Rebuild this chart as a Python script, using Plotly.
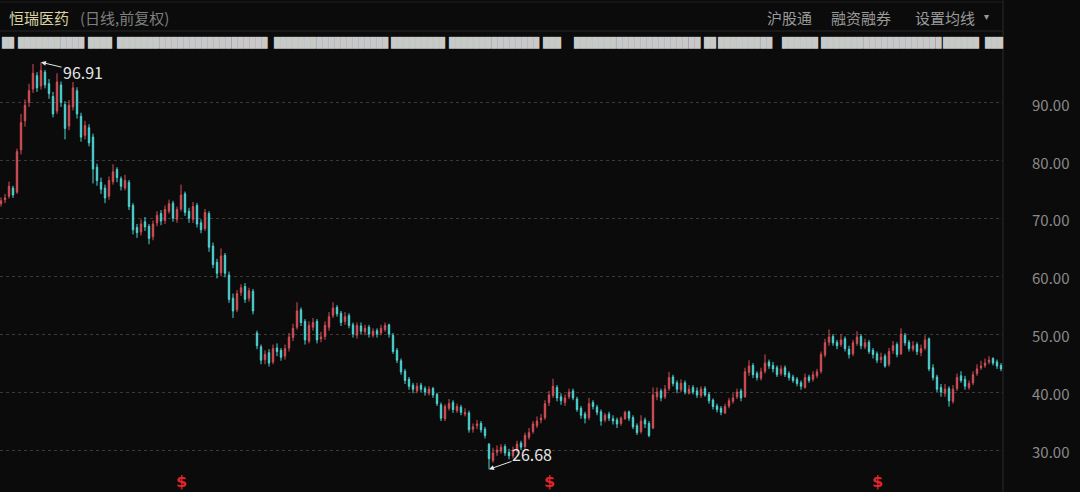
import plotly.graph_objects as go

# ---------------- data (one candle ≈ 2.5 trading days) -------------
open_ = [
    72.5, 73.2, 73.8, 75.2, 74.5, 81.8, 86.8, 90.0, 92.3, 94.6,
    92.8, 95.2, 93.2, 91.0, 88.5, 93.0, 89.6, 85.9, 89.2, 92.0,
    87.6, 84.3, 85.6, 84.0, 78.8, 76.2, 75.2, 73.8, 76.3, 78.4,
    76.8, 75.2, 76.2, 72.2, 68.4, 67.6, 69.4, 68.6, 66.8, 69.2,
    70.8, 69.6, 71.2, 72.6, 69.8, 71.6, 74.2, 71.2, 69.8, 72.2,
    69.2, 68.2, 70.8, 65.2, 62.4, 60.6, 63.6, 60.2, 56.2, 54.2,
    57.2, 58.2, 56.2, 57.4, 50.2, 47.8, 45.6, 46.8, 45.2, 47.6,
    47.2, 46.2, 47.6, 49.4, 51.2, 54.2, 52.2, 48.8, 51.2, 52.2,
    49.2, 49.6, 51.2, 53.2, 54.6, 53.6, 52.2, 53.2, 51.6, 49.8,
    51.4, 50.4, 51.2, 49.8, 50.6, 50.2, 50.8, 51.6, 49.8, 47.2,
    45.4, 43.6, 42.2, 41.2, 40.2, 41.2, 40.6, 39.8, 40.6, 39.6,
    37.8, 35.4, 37.2, 38.2, 36.8, 37.4, 36.2, 36.4, 33.6, 34.2,
    34.6, 33.6, 31.0, 28.2, 29.6, 29.8, 30.6, 29.6, 29.0, 30.0,
    31.2, 30.6, 32.2, 33.2, 34.2, 35.2, 35.6, 38.2, 39.4, 40.8,
    39.2, 38.2, 39.2, 40.2, 38.8, 37.2, 36.2, 35.6, 38.2, 37.4,
    36.6, 35.2, 36.2, 35.4, 35.2, 34.6, 35.4, 36.6, 35.6, 34.2,
    33.2, 35.2, 34.6, 33.8, 39.2, 40.2, 39.2, 40.6, 42.6, 41.6,
    40.4, 41.6, 39.8, 40.8, 40.2, 39.4, 40.6, 39.6, 38.6, 37.6,
    37.2, 36.4, 37.6, 38.4, 39.2, 40.2, 39.2, 43.4, 44.6, 43.2,
    42.4, 43.6, 45.2, 44.6, 44.2, 43.2, 44.2, 43.2, 42.6, 42.2,
    41.6, 40.8, 42.6, 42.2, 42.8, 43.6, 46.4, 48.6, 49.6, 48.6,
    48.2, 49.2, 47.4, 46.6, 48.4, 49.6, 47.8, 48.6, 47.2, 46.6,
    45.6, 46.2, 44.8, 47.2, 48.2, 46.6, 49.8, 48.6, 47.4, 48.2,
    46.8, 47.6, 49.2, 44.2, 42.6, 40.8, 39.8, 40.6, 38.4, 40.6,
    42.8, 42.2, 40.8, 41.6, 43.2, 44.2, 44.6, 45.2, 45.8, 45.2,
    44.6,
]
high = [
    73.6, 74.2, 76.3, 75.6, 82.0, 88.0, 90.5, 93.2, 96.6, 95.2,
    96.91, 95.6, 94.0, 91.8, 95.0, 93.6, 90.2, 90.4, 93.5, 92.6,
    88.2, 86.8, 86.2, 84.6, 79.4, 77.0, 75.8, 77.2, 79.3, 78.8,
    77.2, 77.5, 76.6, 72.6, 69.0, 69.8, 70.2, 69.0, 69.6, 71.2,
    71.4, 72.2, 73.2, 73.0, 72.0, 75.8, 74.6, 71.8, 72.8, 72.6,
    69.8, 71.6, 71.2, 65.8, 63.0, 64.8, 64.0, 60.8, 57.0, 57.6,
    58.6, 58.8, 58.0, 57.8, 50.6, 48.2, 47.2, 47.4, 48.2, 48.4,
    47.6, 48.2, 50.2, 51.8, 55.5, 54.6, 52.6, 52.2, 52.8, 52.6,
    50.4, 52.2, 53.8, 55.5, 55.0, 54.0, 53.8, 53.6, 52.0, 52.0,
    52.0, 51.6, 51.6, 51.0, 51.0, 51.6, 52.0, 51.8, 50.2, 47.6,
    45.8, 44.0, 42.6, 41.6, 41.6, 41.6, 41.0, 41.0, 40.9, 39.9,
    38.2, 37.9, 38.8, 38.6, 38.0, 37.8, 37.2, 36.8, 34.6, 35.2,
    35.0, 34.0, 31.2, 30.4, 30.8, 31.0, 31.0, 30.2, 30.6, 31.6,
    31.6, 33.0, 33.8, 35.0, 35.8, 36.2, 38.6, 40.2, 42.3, 41.2,
    39.8, 39.6, 40.6, 40.6, 39.2, 37.6, 36.6, 39.0, 38.6, 37.8,
    37.0, 36.4, 36.6, 36.0, 35.6, 35.8, 36.8, 36.8, 36.0, 34.6,
    36.0, 35.6, 35.0, 40.8, 40.8, 40.6, 41.2, 43.5, 43.0, 42.0,
    42.2, 42.0, 41.2, 41.2, 40.8, 41.0, 41.0, 40.0, 38.9, 38.0,
    37.6, 38.0, 39.0, 39.8, 40.6, 40.6, 44.2, 45.5, 45.0, 43.6,
    44.2, 46.5, 45.6, 45.2, 44.6, 44.6, 44.6, 43.6, 43.0, 42.6,
    42.0, 43.2, 43.0, 43.6, 44.0, 47.0, 49.2, 50.8, 50.0, 49.0,
    50.0, 49.6, 48.0, 49.0, 50.5, 50.0, 49.2, 49.0, 47.6, 47.0,
    46.8, 46.6, 47.6, 48.8, 48.6, 51.0, 50.2, 49.0, 48.8, 48.6,
    48.2, 49.8, 49.4, 44.8, 43.0, 41.4, 41.4, 41.0, 41.2, 43.2,
    43.6, 42.8, 42.0, 43.6, 44.8, 45.4, 45.8, 46.2, 46.0, 45.6,
    45.0,
]
low = [
    72.0, 72.6, 73.4, 73.5, 74.2, 81.0, 85.8, 89.2, 91.6, 91.8,
    92.2, 92.4, 90.6, 87.4, 88.0, 89.2, 83.6, 85.2, 88.6, 87.2,
    83.2, 83.6, 82.4, 76.0, 75.6, 74.2, 72.6, 73.2, 75.8, 76.2,
    74.8, 74.8, 71.4, 67.2, 66.6, 67.0, 67.8, 65.5, 66.2, 68.6,
    68.8, 69.0, 70.8, 69.4, 69.2, 71.2, 70.4, 69.2, 69.2, 68.4,
    67.4, 67.8, 64.2, 61.4, 59.6, 60.0, 59.8, 55.4, 52.8, 53.8,
    56.6, 55.4, 55.6, 53.4, 47.4, 44.8, 44.8, 44.4, 44.8, 46.2,
    45.4, 45.6, 47.0, 48.8, 50.8, 51.4, 48.2, 48.4, 50.6, 48.4,
    48.6, 49.0, 50.6, 52.8, 53.0, 51.4, 51.6, 51.0, 49.4, 49.2,
    50.0, 49.8, 49.4, 49.4, 49.4, 49.8, 50.4, 49.4, 46.6, 45.0,
    43.0, 41.4, 40.4, 39.8, 39.8, 40.0, 39.4, 39.4, 39.0, 37.6,
    35.0, 35.0, 36.8, 36.4, 36.4, 36.0, 35.8, 33.0, 33.0, 33.6,
    33.0, 32.0, 26.68, 27.8, 29.0, 29.4, 29.0, 28.4, 28.6, 29.6,
    30.0, 30.2, 31.8, 32.8, 33.8, 34.6, 35.2, 37.6, 39.0, 38.4,
    37.8, 37.6, 38.8, 38.6, 36.6, 35.4, 34.6, 35.2, 37.0, 36.0,
    34.2, 34.8, 35.0, 34.4, 33.8, 34.2, 35.2, 35.0, 33.6, 32.6,
    32.8, 33.8, 32.2, 33.6, 38.6, 38.4, 38.8, 40.2, 41.0, 39.8,
    40.0, 39.6, 39.6, 39.6, 39.0, 39.0, 39.2, 38.0, 37.0, 36.5,
    36.0, 36.2, 37.2, 38.0, 38.8, 38.4, 39.0, 42.8, 42.4, 42.0,
    42.0, 43.2, 44.0, 43.4, 42.6, 42.8, 42.6, 42.0, 41.6, 41.0,
    40.4, 40.6, 41.6, 41.8, 42.4, 43.2, 46.0, 48.0, 48.0, 47.4,
    47.8, 47.0, 45.8, 46.2, 48.0, 47.4, 47.4, 46.6, 45.8, 45.0,
    45.0, 44.2, 44.4, 46.6, 46.0, 46.4, 48.0, 47.0, 47.0, 46.4,
    46.2, 47.2, 43.6, 42.0, 40.0, 39.2, 39.2, 37.5, 38.0, 40.2,
    41.6, 40.4, 40.4, 41.2, 42.8, 43.8, 44.2, 44.8, 44.6, 44.0,
    43.6,
]
close = [
    73.0, 73.5, 75.5, 74.0, 81.5, 86.5, 89.5, 92.0, 95.0, 92.5,
    95.5, 93.0, 91.5, 88.0, 93.5, 90.0, 85.5, 89.5, 92.5, 88.0,
    84.0, 86.0, 83.0, 78.5, 76.5, 75.0, 73.5, 76.5, 78.0, 77.0,
    75.5, 76.5, 72.0, 68.0, 67.5, 69.0, 68.5, 66.5, 69.0, 70.5,
    69.5, 71.5, 72.5, 70.0, 71.5, 74.0, 71.0, 70.0, 72.0, 69.0,
    68.0, 71.0, 65.0, 62.0, 60.5, 63.5, 60.5, 56.0, 54.0, 57.0,
    58.0, 56.0, 57.5, 54.0, 48.0, 45.5, 46.5, 45.0, 47.5, 47.0,
    46.0, 47.5, 49.5, 51.0, 54.0, 52.0, 49.0, 51.5, 52.0, 49.0,
    49.5, 51.5, 53.0, 54.5, 53.5, 52.0, 53.0, 51.5, 50.0, 51.5,
    50.5, 51.0, 50.0, 50.5, 50.0, 51.0, 51.5, 50.0, 47.0, 45.5,
    43.5, 42.0, 41.0, 40.5, 41.0, 40.5, 40.0, 40.5, 39.5, 38.0,
    35.5, 37.5, 38.0, 37.0, 37.5, 36.5, 36.5, 33.5, 34.0, 34.5,
    33.5, 32.5, 28.5, 29.5, 30.0, 30.5, 29.5, 29.0, 30.0, 31.0,
    30.5, 32.5, 33.0, 34.5, 35.0, 35.5, 38.0, 39.5, 41.0, 39.0,
    38.5, 39.0, 40.0, 39.0, 37.0, 36.0, 35.5, 38.0, 37.5, 36.5,
    35.0, 36.0, 35.5, 35.0, 34.5, 35.5, 36.5, 35.5, 34.0, 33.0,
    35.0, 34.5, 32.5, 39.5, 40.0, 39.0, 40.5, 42.5, 41.5, 40.5,
    41.5, 40.0, 40.5, 40.0, 39.5, 40.5, 39.5, 38.5, 37.5, 37.0,
    36.5, 37.5, 38.5, 39.0, 40.0, 39.0, 43.5, 44.5, 43.0, 42.5,
    43.5, 45.0, 44.5, 44.0, 43.0, 44.0, 43.0, 42.5, 42.0, 41.5,
    41.0, 42.5, 42.0, 43.0, 43.5, 46.5, 48.5, 49.5, 48.5, 48.0,
    49.0, 47.5, 46.5, 48.5, 49.5, 48.0, 48.5, 47.0, 46.5, 45.5,
    46.0, 44.5, 47.0, 48.0, 46.5, 50.0, 48.5, 47.5, 48.0, 47.0,
    47.5, 49.0, 44.0, 42.5, 40.5, 40.0, 40.5, 38.5, 40.5, 42.5,
    42.0, 41.0, 41.5, 43.0, 44.0, 44.5, 45.0, 45.5, 45.0, 44.5,
    44.0,
]
y_ticks = [30, 40, 50, 60, 70, 80, 90]
y_tick_labels = ["30.00", "40.00", "50.00", "60.00", "70.00", "80.00", "90.00"]
dividend_idx = [45, 137, 219]          # candles carrying a dividend mark
title_name = "恒瑞医药"
title_note = "(日线,前复权)"
menu_items = ["沪股通", "融资融券", "设置均线"]

n = len(close)
assert len(open_) == n and len(high) == n and len(low) == n, (len(open_), len(high), len(low), n)
x = list(range(n))
hi_i = max(range(n), key=lambda i: high[i])
lo_i = min(range(n), key=lambda i: low[i])

# ---------------- styling ----------------
W, H = 1080, 492
ML, MR, MT, MB = 0, 77, 50, 2
PW, PH = W - ML - MR, H - MT - MB
BG = "#0b0b0b"
RED = "#d44f58"
CYAN = "#4fd3d3"
FONT = "Microsoft YaHei, Noto Sans CJK SC, Noto Sans, sans-serif"


def px_x(p):
    return (p - ML) / PW


def px_y(p):
    return (H - MB - p) / PH


fig = go.Figure(go.Candlestick(
    x=x, open=open_, high=high, low=low, close=close,
    increasing=dict(line=dict(color=RED, width=1), fillcolor=RED),
    decreasing=dict(line=dict(color=CYAN, width=1), fillcolor=CYAN),
    whiskerwidth=0, hoverinfo="skip", showlegend=False,
))

ann = []
ann.append(dict(text=title_name, x=px_x(7), y=px_y(17), xanchor="left", yanchor="middle",
                font=dict(size=15, color="#d8d2a4", family=FONT)))
ann.append(dict(text=title_note, x=px_x(78), y=px_y(17), xanchor="left", yanchor="middle",
                font=dict(size=15, color="#7f7f7f", family=FONT)))
for t, xp in zip(menu_items, [765, 829, 913]):
    ann.append(dict(text=t, x=px_x(xp), y=px_y(17), xanchor="left", yanchor="middle",
                    font=dict(size=15, color="#9a9a9a", family=FONT)))
ann.append(dict(text="▾", x=px_x(986), y=px_y(16), xanchor="center", yanchor="middle",
                font=dict(size=10, color="#9a9a9a", family=FONT)))

# obscured indicator legend strip (blurred text in the original)
strip = [(0, 13), (16, 83), (86, 112), (115, 267), (272, 387), (389, 410), (413, 443),
         (447, 537), (541, 558), (572, 700), (702, 713), (716, 772), (780, 817),
         (819, 937), (941, 980), (983, 1002)]
for a, b in strip:
    nch = max(1, round((b - a) / 6.0))
    ann.append(dict(text="█" * nch, x=px_x(a), y=px_y(42), xanchor="left", yanchor="middle",
                    font=dict(size=10, color="#c9c9c9", family="DejaVu Sans Mono"),
                    borderpad=0))

# extreme labels
ann.append(dict(x=hi_i, y=high[hi_i], xref="x", yref="y", text=f"{high[hi_i]:.2f}",
                showarrow=True, arrowhead=2, arrowsize=1, arrowwidth=1, arrowcolor="#e6e6e6",
                ax=42, ay=10, font=dict(size=16, color="#e6e6e6", family=FONT)))
ann.append(dict(x=lo_i, y=low[lo_i], xref="x", yref="y", text=f"{low[lo_i]:.2f}",
                showarrow=True, arrowhead=2, arrowsize=1, arrowwidth=1, arrowcolor="#e6e6e6",
                ax=43, ay=-15, borderpad=0, font=dict(size=16, color="#e6e6e6", family=FONT)))

# dividend marks
for d in dividend_idx:
    ann.append(dict(x=d, y=0, xref="x", yref="paper", text="<b>$</b>", showarrow=False,
                    yanchor="bottom", yshift=-2, borderpad=0,
                    font=dict(size=16, color="#e0262b", family="DejaVu Sans")))

for a in ann:
    a.setdefault("xref", "paper")
    a.setdefault("yref", "paper")
    a.setdefault("showarrow", False)

shapes = [
    dict(type="line", xref="paper", yref="paper", x0=1, x1=1, y0=px_y(0), y1=px_y(H),
         line=dict(color="#2a2a2a", width=1)),
    dict(type="line", xref="paper", yref="paper", x0=0, x1=1, y0=px_y(31), y1=px_y(31),
         line=dict(color="#262626", width=1)),
    dict(type="line", xref="paper", yref="paper", x0=0, x1=1, y0=px_y(2), y1=px_y(2),
         line=dict(color="#1f1f1f", width=1)),
]

fig.update_layout(
    width=W, height=H, margin=dict(l=ML, r=MR, t=MT, b=MB),
    paper_bgcolor=BG, plot_bgcolor=BG,
    annotations=ann, shapes=shapes,
    boxgap=0.5, boxgroupgap=0.3,
    xaxis=dict(range=[-0.25, -0.25 + PW / 4], visible=False, rangeslider=dict(visible=False),
               showgrid=False, zeroline=False, fixedrange=True),
    yaxis=dict(range=[90 - (H - MB - 102.3) / 5.7956, 90 + (102.3 - MT) / 5.7956],
               side="right", tickvals=y_ticks, ticktext=y_tick_labels,
               showgrid=True, gridcolor="#3a3a3a", griddash="dot", gridwidth=1,
               zeroline=False, showline=False, ticks="", ticklabelstandoff=28,
               ticklabelshift=3, fixedrange=True,
               tickfont=dict(size=15, color="#8a8a8a", family=FONT)),
    font=dict(family=FONT),
)

fig.write_html("out.html", config={"displayModeBar": False},
               post_script="document.body.style.margin='0px';document.body.style.background='#0b0b0b';")
